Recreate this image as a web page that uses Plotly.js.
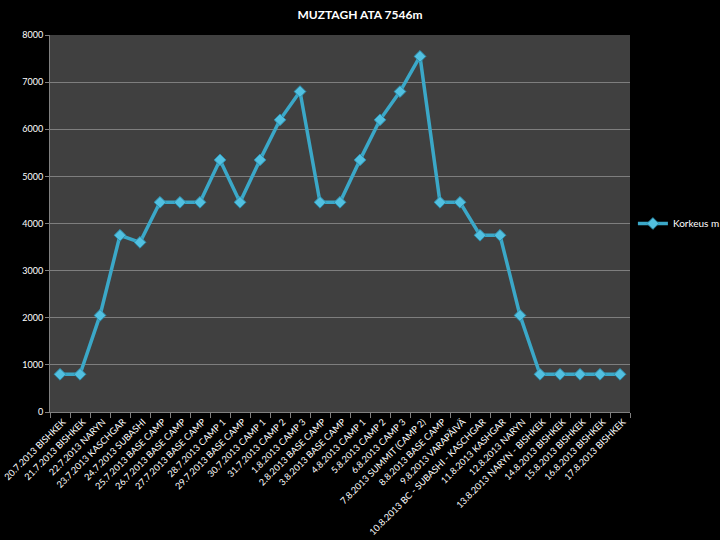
<!DOCTYPE html>
<html>
<head>
<meta charset="utf-8">
<script src="https://cdn.plot.ly/plotly-3.0.1.min.js"></script>
<style>html,body{margin:0;padding:0;background:#000;}#chart{width:720px;height:540px;}</style>
</head>
<body>
<div id="chart"></div>
<script>
const dates = [
  "20.7.2013 BISHKEK","21.7.2013 BISHKEK","22.7.2013 NARYN","23.7.2013 KASCHGAR","24.7.2013 SUBASHI",
  "25.7.2013 BASE CAMP","26.7.2013 BASE CAMP","27.7.2013 BASE CAMP","28.7.2013 CAMP 1","29.7.2013 BASE CAMP",
  "30.7.2013 CAMP 1","31.7.2013 CAMP 2","1.8.2013 CAMP 3","2.8.2013 BASE CAMP","3.8.2013 BASE CAMP",
  "4.8.2013 CAMP 1","5.8.2013 CAMP 2","6.8.2013 CAMP 3","7.8.2013 SUMMIT (CAMP 2)","8.8.2013 BASE CAMP",
  "9.8.2013 VARAPÄIVÄ","10.8.2013 BC - SUBASHI - KASCHGAR","11.8.2013 KASHGAR","12.8.2013 NARYN","13.8.2013 NARYN - BISHKEK",
  "14.8.2013 BISHKEK","15.8.2013 BISHKEK","16.8.2013 BISHKEK","17.8.2013 BISHKEK"
];
const korkeus = [
  800, 800, 2050, 3750, 3600,
  4450, 4450, 4450, 5350, 4450,
  5350, 6200, 6800, 4450, 4450,
  5350, 6200, 6800, 7546, 4450,
  4450, 3750, 3750, 2050, 800,
  800, 800, 800, 800
];
const seriesName = "Korkeus m";
const chartTitle = "MUZTAGH ATA 7546m";
const yTicks = [0, 1000, 2000, 3000, 4000, 5000, 6000, 7000, 8000];

const fontFam = "Lato, 'Open Sans', sans-serif";
const trace = {
  x: dates,
  y: korkeus,
  type: "scatter",
  mode: "lines+markers",
  name: seriesName,
  line: {color: "#3ba8c8", width: 3.5},
  marker: {symbol: "diamond", size: 9, color: "#52c0e0", line: {color: "#2d92b2", width: 1}}
};
const layout = {
  width: 720, height: 540,
  paper_bgcolor: "#000000",
  plot_bgcolor: "#404040",
  margin: {l: 50, r: 90, t: 35, b: 128, autoexpand: false},
  title: {text: "<b>" + chartTitle + "</b>", x: 0.5, xanchor: "center", y: 0.972, yanchor: "middle",
          font: {family: fontFam, size: 12, color: "#ffffff"}},
  font: {family: fontFam, color: "#ffffff"},
  showlegend: true,
  legend: {x: 1.005, xanchor: "left", y: 0.5, yanchor: "middle", font: {family: fontFam, size: 10, color: "#ffffff"},
           bgcolor: "rgba(0,0,0,0)", itemwidth: 30},
  xaxis: {
    type: "category",
    tickangle: -45,
    tickfont: {family: fontFam, size: 9.2, color: "#ffffff"},
    ticklabelshift: 3,
    showgrid: false,
    showline: true, linecolor: "#808080", linewidth: 1,
    ticks: "outside", ticklen: 5, tickcolor: "#808080",
    tickson: "boundaries",
    range: [-0.5, dates.length - 0.5],
    zeroline: false,
    automargin: false
  },
  yaxis: {
    range: [0, 8000],
    tickvals: yTicks,
    ticktext: yTicks.map(String),
    tickfont: {family: fontFam, size: 9, color: "#ffffff"},
    showgrid: true, gridcolor: "#7e7e7e", gridwidth: 1,
    showline: true, linecolor: "#808080",
    ticks: "outside", ticklen: 4, tickcolor: "#808080",
    zeroline: false,
    automargin: false
  }
};
Plotly.newPlot("chart", [trace], layout, {displayModeBar: false, staticPlot: true});
</script>
</body>
</html>
